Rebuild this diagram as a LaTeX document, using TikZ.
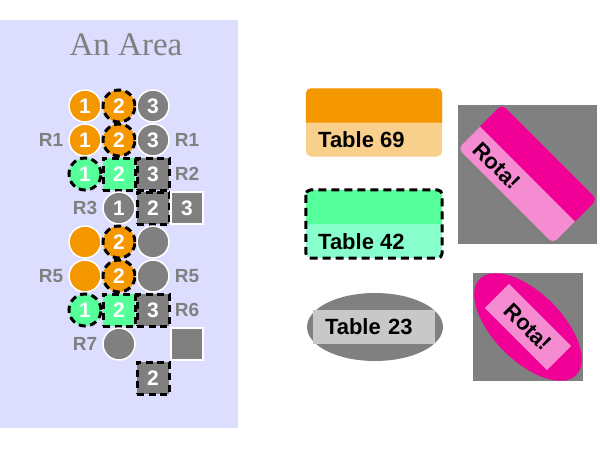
\documentclass[tikz,border=0pt]{standalone}
\usepackage{fontspec}
\setmainfont{Liberation Sans}
\newfontfamily\areafont{Liberation Serif}
\usetikzlibrary{shapes.geometric}
\definecolor{areabg}{RGB}{221,221,255}
\definecolor{myorange}{RGB}{245,152,0}
\definecolor{mygray}{RGB}{128,128,128}
\definecolor{mygreen}{RGB}{85,255,153}
\definecolor{lightorange}{RGB}{248,208,140}
\definecolor{lightgreen}{RGB}{136,255,204}
\definecolor{mymagenta}{RGB}{240,0,150}
\definecolor{mypink}{RGB}{245,140,210}
\definecolor{lightgraytwo}{RGB}{200,200,200}
\tikzset{
  cell/.style={minimum size=32pt, inner sep=0pt, draw=white, line width=1.5pt, text=white,
    font=\bfseries\fontsize{21}{24}\selectfont},
  circ/.style={cell, circle},
  sq/.style={cell, rectangle},
  dsh/.style={draw=black, dash pattern=on 7pt off 4.5pt, line width=3pt},
  org/.style={fill=myorange},
  gry/.style={fill=mygray},
  grn/.style={fill=mygreen},
  lbl/.style={text=mygray, inner sep=0pt, font=\bfseries\fontsize{19}{22}\selectfont},
  tbltext/.style={inner sep=0pt, text=black, font=\bfseries\fontsize{22}{26}\selectfont},
  tablebox/.style={minimum width=136pt, minimum height=68pt, inner sep=0pt, rounded corners=5pt},
}
\begin{document}
\begin{tikzpicture}[x=1pt,y=-1pt]
\useasboundingbox (0,0) rectangle (600,450);
% area
\node[fill=areabg, minimum width=238pt, minimum height=408pt, inner sep=0pt, anchor=north west] (area) at (0,20) {};
\node[text=mygray, inner sep=0pt, font=\areafont\fontsize{33}{36}\selectfont] (title) at (126,45) {An Area};
% row 0
\node[circ,org] (a01) at (85,106) {1};
\node[circ,org,dsh] (a02) at (119,106) {2};
\node[circ,gry] (a03) at (153,106) {3};
% row 1
\node[lbl] (l10) at (51,140) {R1};
\node[circ,org] (a11) at (85,140) {1};
\node[circ,org,dsh] (a12) at (119,140) {2};
\node[circ,gry] (a13) at (153,140) {3};
\node[lbl] (l14) at (187,140) {R1};
% row 2
\node[circ,grn,dsh] (a21) at (85,174) {1};
\node[sq,grn,dsh] (a22) at (119,174) {2};
\node[sq,gry,dsh] (a23) at (153,174) {3};
\node[lbl] (l24) at (187,174) {R2};
% row 3
\node[lbl] (l31) at (85,208) {R3};
\node[circ,gry] (a32) at (119,208) {1};
\node[sq,gry,dsh] (a33) at (153,208) {2};
\node[sq,gry] (a34) at (187,208) {3};
% row 4
\node[circ,org] (a41) at (85,242) {};
\node[circ,org,dsh] (a42) at (119,242) {2};
\node[circ,gry] (a43) at (153,242) {};
% row 5
\node[lbl] (l50) at (51,276) {R5};
\node[circ,org] (a51) at (85,276) {};
\node[circ,org,dsh] (a52) at (119,276) {2};
\node[circ,gry] (a53) at (153,276) {};
\node[lbl] (l54) at (187,276) {R5};
% row 6
\node[circ,grn,dsh] (a61) at (85,310) {1};
\node[sq,grn,dsh] (a62) at (119,310) {2};
\node[sq,gry,dsh] (a63) at (153,310) {3};
\node[lbl] (l64) at (187,310) {R6};
% row 7
\node[lbl] (l71) at (85,344) {R7};
\node[circ,gry] (a72) at (119,344) {};
\node[sq,gry] (a74) at (187,344) {};
% row 8
\node[sq,gry,dsh] (a83) at (153,378) {2};

% Table 69
\node[tablebox, fill=lightorange] (t69) at (374,122.5) {};
\fill[myorange] (t69.west) [rounded corners=5pt] -- (t69.north west) -- (t69.north east) [sharp corners] -- (t69.east) -- cycle;
\node[tbltext, anchor=west] (t69txt) at (318,140) {Table 69};
% Table 42
\node[tablebox, fill=lightgreen] (t42) at (374,224) {};
\fill[mygreen] (t42.west) [rounded corners=5pt] -- (t42.north west) -- (t42.north east) [sharp corners] -- (t42.east) -- cycle;
\draw[black, dash pattern=on 8pt off 5pt, line width=3pt, rounded corners=5pt] (t42.north west) rectangle (t42.south east);
\node[tbltext, anchor=west] (t42txt) at (318,242) {Table 42};
% Table 23
\node[ellipse, fill=mygray, minimum width=136pt, minimum height=68pt, inner sep=0pt] (t23) at (375,327) {};
\node[tbltext, fill=lightgraytwo, text width=98pt, align=left, inner xsep=12pt, minimum height=34pt] (t23txt) at (374,327) {Table 23};

% Rota 1
\fill[mygray] (458,104.5) rectangle (597,243.5);
\begin{scope}[shift={(527.5,174)}, rotate=-45, transform shape]
  \node[fill=mypink, rounded corners=5pt, minimum width=134pt, minimum height=62pt, inner sep=0pt] (rota1) at (0,0) {};
  \fill[mymagenta] (rota1.west) [rounded corners=5pt] -- (rota1.north west) -- (rota1.north east) [sharp corners] -- (rota1.east) -- cycle;
  \node[tbltext, anchor=west] (rota1txt) at (-56,16) {Rota!};
\end{scope}

% Rota 2
\fill[mygray] (473,273) rectangle (583,381);
\begin{scope}[shift={(528,327)}, rotate=-45, transform shape]
  \node[ellipse, fill=mymagenta, minimum width=136pt, minimum height=68pt, inner sep=0pt] (rota2) at (0,0) {};
  \node[tbltext, fill=mypink, minimum width=88pt, minimum height=34pt] (rota2txt) at (0,0) {Rota!};
\end{scope}
\end{tikzpicture}
\end{document}
